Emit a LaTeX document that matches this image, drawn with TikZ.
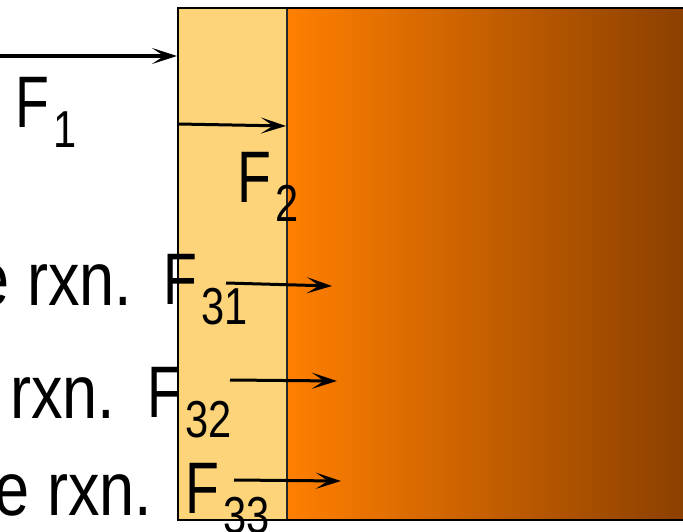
\documentclass[tikz,border=0pt]{standalone}
\usepackage{fontspec}
\setmainfont{Liberation Sans}
\usepackage{tikz}
\usetikzlibrary{arrows.meta}
\definecolor{filmcol}{RGB}{253,212,122}
\definecolor{bulkleft}{RGB}{255,127,0}
\definecolor{bulkright}{RGB}{140,64,0}
\newcommand{\flux}[1]{\scalebox{0.76}[1]{F}\kern3.9pt\raisebox{-20pt}{\scalebox{0.8}[1]{\fontsize{52}{52}\selectfont #1}}}
\newcommand{\rxntext}[1]{\scalebox{0.83}[1]{#1}}

\begin{document}
\begin{tikzpicture}[
  x=1pt, y=-1pt,
  flx/.style  = {anchor=base west, inner sep=0pt, font=\fontsize{73}{73}\selectfont},
  rxn/.style  = {anchor=base east, inner sep=0pt, font=\fontsize{76}{76}\selectfont},
  arr/.style  = {-{Stealth[length=25pt, width=16pt, inset=12pt]}, line width=3pt},
]
\useasboundingbox (0,0) rectangle (683,532);
% film and bulk
\shade[left color=bulkleft, right color=bulkright] (287,8) rectangle (683,520);
\fill[filmcol] (178,8) rectangle (287,520);
\draw[line width=1.5pt, black!85] (287,8) -- (287,520);
\draw[line width=2.5pt] (700,8) -- (178,8) -- (178,520) -- (700,520);
% arrow ends
\coordinate (in1)   at (-5,56);
\coordinate (film1) at (177,56);
\coordinate (in2)   at (178,124);
\coordinate (film2) at (286,126);
\coordinate (s31)   at (226,283);
\coordinate (e31)   at (332,286);
\coordinate (s32)   at (230,380);
\coordinate (e32)   at (337,381);
\coordinate (s33)   at (234,480);
\coordinate (e33)   at (341,481);
% labels
\node[flx] (f1)  at (15.5,128)  {\flux{1}};
\node[flx] (f2)  at (237.5,202) {\flux{2}};
\node[flx] (f31) at (163.5,304) {\flux{31}};
\node[flx] (f32) at (147.5,417) {\flux{32}};
\node[flx] (f33) at (185.5,513) {\flux{33}};
\node[rxn] (r1) at (132.7,305) {\rxntext{e rxn.}};
\node[rxn] (r2) at (115.7,418) {\rxntext{rxn.}};
\node[rxn] (r3) at (152.7,515) {\rxntext{e rxn.}};
% arrows
\draw[arr, line width=4.5pt] (in1) -- (film1);
\draw[arr] (in2) -- (film2);
\draw[arr] (s31) -- (e31);
\draw[arr] (s32) -- (e32);
\draw[arr] (s33) -- (e33);
\end{tikzpicture}
\end{document}
